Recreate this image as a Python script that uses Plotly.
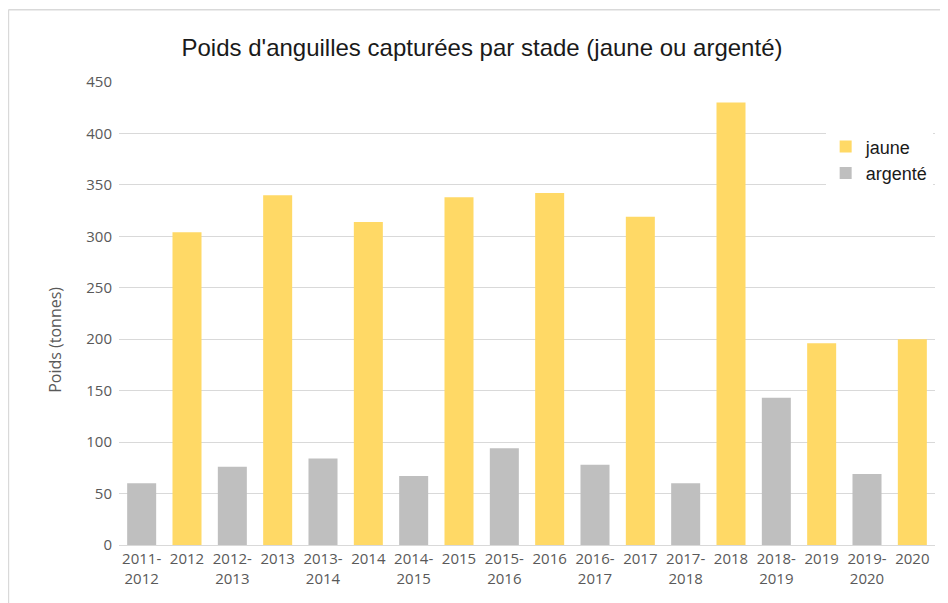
import plotly.graph_objects as go

categories = ["2011-<br>2012", "2012", "2012-<br>2013", "2013", "2013-<br>2014", "2014",
              "2014-<br>2015", "2015", "2015-<br>2016", "2016", "2016-<br>2017", "2017",
              "2017-<br>2018", "2018", "2018-<br>2019", "2019", "2019-<br>2020", "2020"]
jaune_x = ["2012", "2013", "2014", "2015", "2016", "2017", "2018", "2019", "2020"]
jaune_y = [304, 340, 314, 338, 342, 319, 430, 196, 200]
argente_x = ["2011-<br>2012", "2012-<br>2013", "2013-<br>2014", "2014-<br>2015", "2015-<br>2016",
             "2016-<br>2017", "2017-<br>2018", "2018-<br>2019", "2019-<br>2020"]
argente_y = [60, 76, 84, 67, 94, 78, 60, 143, 69]
y_ticks = [0, 50, 100, 150, 200, 250, 300, 350, 400, 450]

fig = go.Figure()
fig.add_trace(go.Bar(x=jaune_x, y=jaune_y, name="jaune", marker_color="#FFD966",
                     marker_line_width=0))
fig.add_trace(go.Bar(x=argente_x, y=argente_y, name="argenté", marker_color="#BFBFBF",
                     marker_line_width=0))

fig.update_layout(
    width=948, height=603,
    paper_bgcolor="white", plot_bgcolor="white",
    barmode="overlay", bargap=0.36,
    margin=dict(l=111, r=21, t=74, b=66),
    title=dict(text="Poids d'anguilles capturées par stade (jaune ou argenté)",
               x=0.5, xanchor="center", y=0.934, yanchor="middle",
               font=dict(family="Liberation Sans", size=24, color="#1a1a1a")),
    legend=dict(x=0.866, y=0.9, xanchor="left", yanchor="top",
                font=dict(family="Liberation Sans", size=18, color="#1a1a1a"),
                bgcolor="white", traceorder="normal", itemwidth=30, tracegroupgap=4),
    showlegend=True,
)
fig.update_xaxes(categoryorder="array", categoryarray=categories, type="category",
                 tickfont=dict(family="Open Sans", size=15, color="#595959"),
                 showline=True, linecolor="#d9d9d9", linewidth=1, ticks="",
                 showgrid=False)
fig.update_yaxes(range=[0, 450], tickvals=y_ticks, showgrid=True, gridcolor="#d9d9d9",
                 gridwidth=1, zeroline=False,
                 tickfont=dict(family="Open Sans", size=15, color="#595959"),
                 ticks="", ticklabelstandoff=6)
fig.add_annotation(text="Poids (tonnes)", xref="paper", yref="paper", x=-0.0785, y=0.443,
                   xanchor="center", yanchor="middle", textangle=-90, showarrow=False,
                   font=dict(family="Open Sans", size=16, color="#595959"))
fig.add_shape(type="line", xref="paper", yref="paper", x0=-0.1355, x1=1.05, y0=1.156, y1=1.156,
              line=dict(color="#d9d9d9", width=1.5))
fig.add_shape(type="line", xref="paper", yref="paper", x0=-0.1355, x1=-0.1355, y0=1.156, y1=-0.15,
              line=dict(color="#d9d9d9", width=1.5))

fig.write_html("out.html")
